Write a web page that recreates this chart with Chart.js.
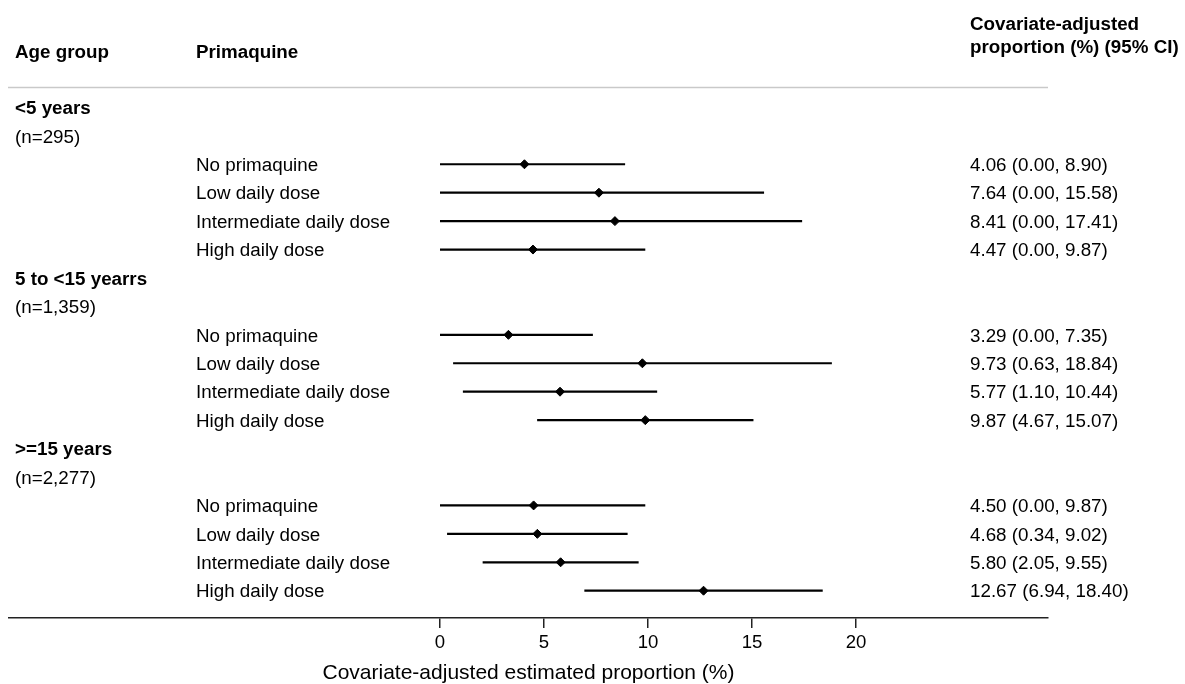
<!DOCTYPE html>
<html>
<head>
<meta charset="utf-8">
<title>Covariate-adjusted estimated proportion by age group and primaquine dose</title>
<script src="https://cdn.jsdelivr.net/npm/chart.js@4.4.1/dist/chart.umd.min.js"></script>
<style>
  html, body { margin: 0; padding: 0; background: #ffffff; }
  #wrap { position: relative; width: 1185px; height: 684px; }
</style>
</head>
<body>
<div id="wrap"><canvas id="forest"></canvas></div>
<script>
// ---- data -------------------------------------------------------------
const ageGroups  = ['<5 years', '5 to <15 yearrs', '>=15 years'];
const groupSizes = ['(n=295)', '(n=1,359)', '(n=2,277)'];
const doseLevels = ['No primaquine', 'Low daily dose', 'Intermediate daily dose', 'High daily dose'];

// one value per (age group, dose) pair, age group major
const estimates = [4.06, 7.64, 8.41, 4.47,  3.29, 9.73, 5.77, 9.87,   4.50, 4.68, 5.80, 12.67];
const lowerCI   = [0.00, 0.00, 0.00, 0.00,  0.00, 0.63, 1.10, 4.67,   0.00, 0.34, 2.05, 6.94];
const upperCI   = [8.90, 15.58, 17.41, 9.87, 7.35, 18.84, 10.44, 15.07, 9.87, 9.02, 9.55, 18.40];

const xTickValues = [0, 5, 10, 15, 20];
const axisTitle = 'Covariate-adjusted estimated proportion (%)';
const colHeaderAge = 'Age group';
const colHeaderDose = 'Primaquine';
const colHeaderEstimate = ['Covariate-adjusted', 'proportion (%) (95% CI)'];

// ---- row layout: each age group takes a title row, a size row, then one row per dose
const ROWS_PER_GROUP = 2 + doseLevels.length;
const rowOf = (i) => Math.floor(i / doseLevels.length) * ROWS_PER_GROUP + 2 + (i % doseLevels.length);

const pointData = estimates.map((v, i) => ({ x: v, y: rowOf(i) }));
const whiskerData = [];
lowerCI.forEach((lo, i) => {
  whiskerData.push({ x: lo, y: rowOf(i) }, { x: upperCI[i], y: rowOf(i) }, { x: upperCI[i], y: null });
});

const FONT_FAMILY = '"Liberation Sans", Arial, Helvetica, sans-serif';
const TEXT_SIZE = 18.8;
const INK = '#000000';
const AXIS_INK = '#222222';

// column x positions (px)
const COL_AGE = 15;
const COL_DOSE = 196;
const COL_EST = 970;

const tablePlugin = {
  id: 'forestTable',
  afterDraw(chart) {
    const ctx = chart.ctx;
    const ys = chart.scales.y;
    const area = chart.chartArea;
    const rowY = (r) => ys.getPixelForValue(r) + 1.5;

    ctx.save();
    // rule under the column headings
    ctx.strokeStyle = '#c9c9c9';
    ctx.lineWidth = 1.3;
    ctx.beginPath();
    const ruleY = Math.round(ys.getPixelForValue(-0.73)) + 0.5;
    ctx.moveTo(area.left - 1, ruleY);
    ctx.lineTo(area.right, ruleY);
    ctx.stroke();

    ctx.fillStyle = INK;
    ctx.textBaseline = 'middle';
    ctx.textAlign = 'left';

    // headings
    ctx.font = `bold ${TEXT_SIZE}px ${FONT_FAMILY}`;
    ctx.fillText(colHeaderAge, COL_AGE, rowY(-1.97));
    ctx.fillText(colHeaderDose, COL_DOSE, rowY(-1.97));
    ctx.fillText(colHeaderEstimate[0], COL_EST, rowY(-2.955));
    ctx.fillText(colHeaderEstimate[1], COL_EST, rowY(-2.156));

    // age group blocks
    ageGroups.forEach((g, gi) => {
      const base = gi * ROWS_PER_GROUP;
      ctx.font = `bold ${TEXT_SIZE}px ${FONT_FAMILY}`;
      ctx.fillText(g, COL_AGE, rowY(base));
      ctx.font = `${TEXT_SIZE}px ${FONT_FAMILY}`;
      ctx.fillText(groupSizes[gi], COL_AGE, rowY(base + 1));
    });

    // dose rows and estimate text
    ctx.font = `${TEXT_SIZE}px ${FONT_FAMILY}`;
    estimates.forEach((v, i) => {
      const y = rowY(rowOf(i));
      ctx.fillText(doseLevels[i % doseLevels.length], COL_DOSE, y);
      ctx.fillText(`${v.toFixed(2)} (${lowerCI[i].toFixed(2)}, ${upperCI[i].toFixed(2)})`, COL_EST, y);
    });
    ctx.restore();
  }
};

// plot area spans 9..1048 px; 0 sits at 440 px and 20 at 856 px (20.8 px per unit)
const PX_PER_UNIT = 20.8;
const LEFT = 9, RIGHT = 1048, ZERO_PX = 440;
const xMin = -(ZERO_PX - LEFT) / PX_PER_UNIT;
const xMax = (RIGHT - ZERO_PX) / PX_PER_UNIT;

// rows: row 0 at ~107.4 px, 28.43 px per row, plot bottom at 618 px
const ROW_PX = 28.43, ROW0_PX = 107.4, BOTTOM_PX = 618;
const yMin = -ROW0_PX / ROW_PX;
const yMax = (BOTTOM_PX - ROW0_PX) / ROW_PX;

new Chart(document.getElementById('forest'), {
  type: 'scatter',
  data: {
    datasets: [
      {
        label: 'Estimate',
        data: pointData,
        pointStyle: 'rectRot',
        pointRadius: 4.5,
        pointBackgroundColor: INK,
        pointBorderColor: INK,
        pointBorderWidth: 1,
        showLine: false
      },
      {
        label: '95% CI',
        data: whiskerData,
        showLine: true,
        spanGaps: false,
        borderColor: INK,
        borderWidth: 2.2,
        pointRadius: 0,
        pointHoverRadius: 0
      }
    ]
  },
  options: {
    responsive: true,
    maintainAspectRatio: false,
    animation: false,
    layout: { autoPadding: false, padding: { left: LEFT, right: 1185 - RIGHT, top: 0, bottom: 0 } },
    plugins: { legend: { display: false }, tooltip: { enabled: false } },
    scales: {
      x: {
        type: 'linear',
        position: 'bottom',
        min: xMin,
        max: xMax,
        afterBuildTicks: (axis) => { axis.ticks = xTickValues.map(v => ({ value: v })); },
        afterFit: (axis) => { axis.height = 684 - BOTTOM_PX; },
        grid: { display: true, drawOnChartArea: false, drawTicks: true, tickLength: 10, color: AXIS_INK, lineWidth: 1.5 },
        border: { display: true, color: AXIS_INK, width: 1.6 },
        ticks: {
          autoSkip: false,
          padding: 4,
          color: INK,
          font: { family: FONT_FAMILY, size: 18.6 },
          callback: (v) => String(v)
        },
        title: {
          display: true,
          text: axisTitle,
          color: INK,
          font: { family: FONT_FAMILY, size: 21, lineHeight: 1 },
          padding: { top: 0, bottom: 0 }
        }
      },
      y: {
        type: 'linear',
        display: false,
        reverse: true,
        min: yMin,
        max: yMax
      }
    }
  },
  plugins: [tablePlugin]
});
</script>
</body>
</html>
